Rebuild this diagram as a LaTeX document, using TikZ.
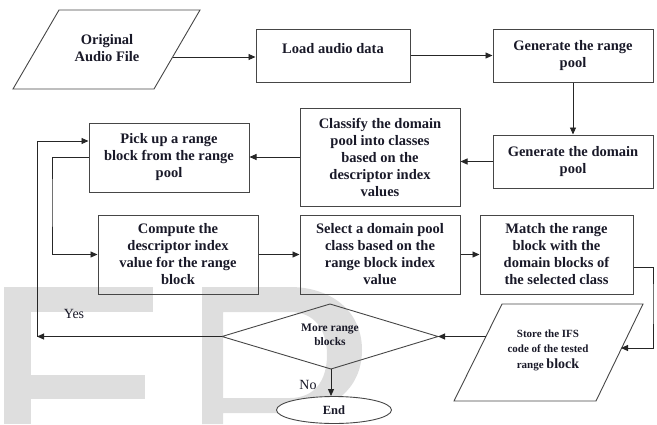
\documentclass[tikz,border=0pt]{standalone}
\usepackage{fontspec}
\setmainfont{Liberation Serif}
\usetikzlibrary{arrows.meta,shapes.geometric}
\definecolor{wm}{RGB}{222,222,222}
\definecolor{ink}{RGB}{25,25,40}
\definecolor{edgec}{RGB}{70,70,70}
\begin{document}
\begin{tikzpicture}[x=1pt,y=-1pt,
  box/.style={draw=edgec,line width=1pt,align=center,inner sep=0pt,
    font=\fontsize{14.5}{17}\selectfont\bfseries,text=ink},
  txt/.style={align=center,inner sep=0pt,text=ink},
  arr/.style={draw=black!85,line width=0.9pt,-{Triangle[length=7pt,width=6pt]}},
  shp/.style={draw=edgec,line width=0.9pt}
]
\useasboundingbox (0,0) rectangle (657,424);
% watermark
\fill[wm] (4,287) rectangle (153,312);
\fill[wm] (4,287) rectangle (31,424);
\fill[wm] (4,375) rectangle (145,399);
\fill[wm,even odd rule] (202,287) -- (290,287) .. controls (330,287) and (362,310) .. (362,350)
  .. controls (362,390) and (330,413) .. (290,413) -- (223,413) -- (223,424) -- (202,424) -- cycle
  (223,312) -- (290,312) .. controls (315,312) and (327,330) .. (327,355)
  .. controls (327,380) and (315,398) .. (290,398) -- (223,398) -- cycle;

% original audio file (parallelogram)
\draw[shp] (59,10) -- (200,10) -- (154,89) -- (13,89) -- cycle;
\coordinate (origR) at (172.6,57);
\node[txt,font=\fontsize{14.5}{17}\selectfont\bfseries] (orig) at (107,48.5) {Original\\Audio File};

% boxes
\node[box,minimum width=154pt,minimum height=53pt] (load) at (333,55.5)
  {\raisebox{6.5pt}[\height][\depth]{Load audio data}};
\node[box,minimum width=160pt,minimum height=53pt] (grange) at (573,55.5)
  {Generate the range\\pool};
\node[box,minimum width=160pt,minimum height=53pt] (gdomain) at (573,161.5)
  {Generate the domain\\pool};
\node[box,minimum width=160pt,minimum height=98pt] (classify) at (380,157)
  {Classify the domain\\pool into classes\\based on the\\descriptor index\\values};
\node[box,minimum width=160pt,minimum height=69pt] (pick) at (169,157.5)
  {Pick up a range\\block from the range\\pool};
\node[box,minimum width=160pt,minimum height=79pt] (compute) at (178,254.5)
  {Compute the\\descriptor index\\value for the range\\block};
\node[box,minimum width=160pt,minimum height=79pt] (select) at (380,254.5)
  {Select a domain pool\\class based on the\\range block index\\value};
\node[box,minimum width=153pt,minimum height=79pt] (match) at (556.5,254.5)
  {Match the range\\block with the\\domain blocks of\\the selected class};

% store (parallelogram)
\draw[shp] (502,304) -- (643,304) -- (596,401) -- (454,401) -- cycle;
\coordinate (storeL) at (486,336.5);
\coordinate (storeR) at (621,348);
\node[txt,font=\fontsize{11}{15.5}\selectfont\bfseries] (store) at (548,350)
  {Store the IFS\\code of the tested\\range {\fontsize{14}{16}\selectfont block}};

% decision diamond
\coordinate (dL) at (222,336.5);
\coordinate (dT) at (330,304);
\coordinate (dR) at (438,336.5);
\coordinate (dB) at (331,369);
\draw[shp] (dL) -- (dT) -- (dR) -- (dB) -- cycle;
\node[txt,font=\fontsize{11.5}{14}\selectfont\bfseries] (more) at (330,335) {More range\\blocks};

% end
\node[ellipse,draw=edgec,line width=0.9pt,fill=white,minimum width=115pt,minimum height=27pt,
  inner sep=0pt,text=ink,font=\fontsize{12.5}{14}\selectfont\bfseries] (end) at (334,410) {End};

% labels
\node[txt,font=\fontsize{14}{16}\selectfont] (yes) at (74,314) {Yes};
\node[txt,font=\fontsize{14}{16}\selectfont] (no) at (308,385) {No};

% connectors
\coordinate (yesC) at (37,336.5);
\coordinate (loopX) at (52,200);
\coordinate (rc) at (653,300);
\draw[arr] (origR) -- (origR -| load.west);
\draw[arr] (load.east) -- (grange.west);
\draw[arr] (grange.south) -- (gdomain.north);
\draw[arr] (gdomain.west) -- (gdomain.west -| classify.east);
\draw[arr] (classify.west) -- (classify.west -| pick.east);
\draw[arr] (pick.west) -| (loopX) |- (compute.west);
\draw[arr] (compute.east) -- (select.west);
\draw[arr] (select.east) -- (match.west);
\draw[arr] ([yshift=-12.5pt]match.east) -| (rc) |- (storeR);
\draw[arr] (storeL) -- (dR);
\draw[arr] (dL) -- (yesC);
\draw[arr] (yesC) |- ([yshift=16.5pt]pick.west);
\draw[arr] (dB) -- (dB |- end.north);
\end{tikzpicture}
\end{document}
